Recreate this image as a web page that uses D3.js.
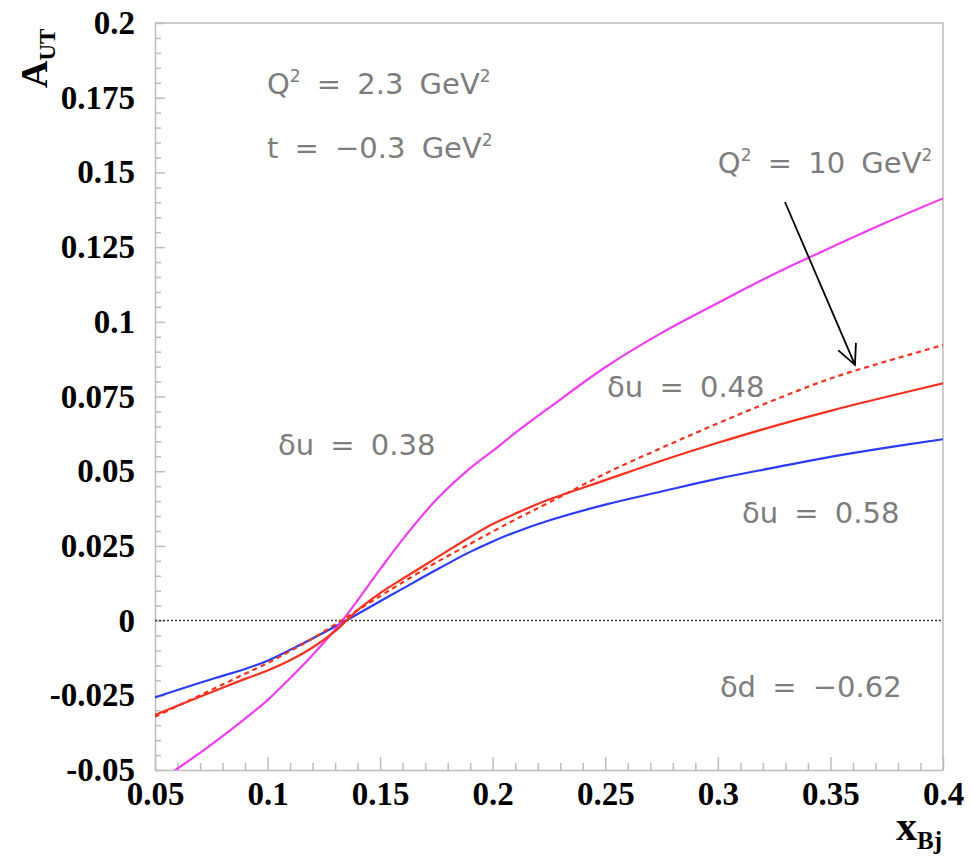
<!DOCTYPE html>
<html>
<head>
<meta charset="utf-8">
<script src="https://cdn.jsdelivr.net/npm/d3@7"></script>
<style>
  body { margin: 0; background: #fff; }
  .ann { font-family: "DejaVu Sans", sans-serif; fill: #7d7d7d; font-size: 29px; word-spacing: 7px; }
  .tick text { font-family: "Liberation Serif", "Times New Roman", serif; font-weight: bold; font-size: 33px; fill: #000; }
</style>
</head>
<body>
<svg width="972" height="859"></svg>
<script>
// x grid shared by all curves
var xBj = [0.05, 0.06, 0.07, 0.08, 0.09, 0.1, 0.11, 0.12, 0.13, 0.14, 0.15, 0.16,
           0.175, 0.19, 0.2, 0.21, 0.225, 0.25, 0.275, 0.3, 0.325, 0.35, 0.375, 0.4];

// du = 0.58, Q2 = 2.3
var blueAUT = [-0.0257, -0.0232, -0.0208, -0.0185, -0.0162, -0.0134, -0.0098, -0.006, -0.002, 0.0022, 0.0065, 0.0107,
               0.017, 0.023, 0.0265, 0.0296, 0.0335, 0.0388, 0.0432, 0.0475, 0.0512, 0.0548, 0.0579, 0.0607];
// du = 0.48, Q2 = 2.3
var redAUT = [-0.0316, -0.0285, -0.0255, -0.0225, -0.0195, -0.0167, -0.0133, -0.009, -0.0035, 0.0035, 0.0092, 0.014,
              0.021, 0.028, 0.0323, 0.0358, 0.0405, 0.047, 0.0535, 0.0595, 0.0651, 0.0702, 0.0749, 0.0794];
// du = 0.48, Q2 = 10
var redQ10AUT = [-0.0322, -0.0286, -0.025, -0.0214, -0.0178, -0.0142, -0.0102, -0.006, -0.0013, 0.0035, 0.0082, 0.0128,
                 0.0195, 0.0257, 0.0298, 0.0338, 0.0395, 0.0492, 0.0578, 0.066, 0.0738, 0.081, 0.0868, 0.0922];
// du = 0.38, Q2 = 2.3
var magentaAUT = [-0.0545, -0.0495, -0.0443, -0.0387, -0.0328, -0.0266, -0.0193, -0.0115, -0.003, 0.0068, 0.0172, 0.0272,
                  0.0405, 0.051, 0.0568, 0.0628, 0.0712, 0.0848, 0.0963, 0.1063, 0.116, 0.1248, 0.1333, 0.1413];

var xTicks = [0.05, 0.1, 0.15, 0.2, 0.25, 0.3, 0.35, 0.4];
var yTicks = [-0.05, -0.025, 0, 0.025, 0.05, 0.075, 0.1, 0.125, 0.15, 0.175, 0.2];

var svg = d3.select("svg"),
    margin = {top: 23, right: 29, bottom: 89, left: 155},
    width = +svg.attr("width") - margin.left - margin.right,
    height = +svg.attr("height") - margin.top - margin.bottom;

var x = d3.scaleLinear().domain([0.05, 0.4]).range([0, width]),
    y = d3.scaleLinear().domain([-0.05, 0.2]).range([height, 0]);

var g = svg.append("g")
    .attr("transform", "translate(" + margin.left + "," + margin.top + ")");

svg.append("defs").append("clipPath")
    .attr("id", "clip")
    .append("rect")
    .attr("width", width)
    .attr("height", height);

// minor ticks
var xMinor = d3.range(0.05, 0.4001, 0.01).map(function(d) { return +d.toFixed(3); })
    .filter(function(d) { return xTicks.indexOf(d) < 0; });
var yMinor = d3.range(-0.05, 0.2001, 0.005).map(function(d) { return +d.toFixed(3); })
    .filter(function(d) { return yTicks.indexOf(d) < 0; });

g.append("g")
    .attr("transform", "translate(0," + height + ")")
    .call(d3.axisBottom(x).tickValues(xMinor).tickSize(-7).tickFormat(""))
    .call(function(a) { a.select(".domain").remove(); });

g.append("g")
    .call(d3.axisLeft(y).tickValues(yMinor).tickSize(-6).tickFormat(""))
    .call(function(a) { a.select(".domain").remove(); });

g.append("g")
    .attr("transform", "translate(0," + height + ")")
    .call(d3.axisBottom(x).tickValues(xTicks).tickSizeInner(-13).tickSizeOuter(0).tickPadding(12)
        .tickFormat(function(d) { return String(+d.toFixed(2)); }));

g.append("g")
    .call(d3.axisLeft(y).tickValues(yTicks).tickSizeInner(-10).tickSizeOuter(0).tickPadding(20)
        .tickFormat(function(d) { return String(+d.toFixed(3)); }));

g.selectAll(".domain, .tick line").attr("stroke", "#bdbdbd").attr("stroke-width", 1.5);

// top and right frame
g.append("path")
    .attr("d", "M0,0H" + width + "V" + height)
    .attr("fill", "none")
    .attr("stroke", "#bdbdbd")
    .attr("stroke-width", 1.5);

// zero line
g.append("line")
    .attr("x1", 0).attr("x2", width)
    .attr("y1", y(0)).attr("y2", y(0))
    .attr("stroke", "#333")
    .attr("stroke-width", 1.5)
    .attr("stroke-dasharray", "2,2");

var line = d3.line()
    .curve(d3.curveCatmullRom.alpha(0.5))
    .x(function(d) { return x(d[0]); })
    .y(function(d) { return y(d[1]); });

var curves = [
  {vals: blueAUT, color: "#2a3cf5", dash: null},
  {vals: magentaAUT, color: "#f23cf2", dash: null},
  {vals: redQ10AUT, color: "#f5321e", dash: "5,4"},
  {vals: redAUT, color: "#f5321e", dash: null}
];

g.append("g")
    .attr("clip-path", "url(#clip)")
    .selectAll("path")
    .data(curves)
    .enter()
    .append("path")
    .attr("d", function(c) { return line(xBj.map(function(v, i) { return [v, c.vals[i]]; })); })
    .attr("fill", "none")
    .attr("stroke", function(c) { return c.color; })
    .attr("stroke-width", 2.2)
    .attr("stroke-dasharray", function(c) { return c.dash; });

// annotations
function ann(px, py, parts) {
  var t = g.append("text").attr("class", "ann").attr("x", x(px)).attr("y", y(py));
  parts.forEach(function(p) {
    if (p.sup) {
      t.append("tspan").attr("font-size", 17).attr("dy", -12).text(p.sup);
      t.append("tspan").attr("dy", 12).text(p.t || "");
    } else {
      t.append("tspan").text(p.t);
    }
  });
}

ann(0.0997, 0.1761, [{t: "Q"}, {sup: "2", t: " = 2.3 GeV"}, {sup: "2"}]);
ann(0.0997, 0.1547, [{t: "t = \u22120.3 GeV"}, {sup: "2"}]);
ann(0.3, 0.1497, [{t: "Q"}, {sup: "2", t: " = 10 GeV"}, {sup: "2"}]);
ann(0.2508, 0.0748, [{t: "\u03b4u = 0.48"}]);
ann(0.1046, 0.0554, [{t: "\u03b4u = 0.38"}]);
ann(0.3107, 0.0327, [{t: "\u03b4u = 0.58"}]);
ann(0.3009, -0.0256, [{t: "\u03b4d = \u22120.62"}]);

// arrow toward the Q2 = 10 curve
var tail = [0.3298, 0.1401], tip = [0.3609, 0.0856];
var ax = x(tip[0]), ay = y(tip[1]);
var ang = Math.atan2(ay - y(tail[1]), ax - x(tail[0]));
g.append("path")
    .attr("d", "M" + x(tail[0]) + "," + y(tail[1]) + "L" + ax + "," + ay +
        "M" + (ax - 22 * Math.cos(ang - 0.45)) + "," + (ay - 22 * Math.sin(ang - 0.45)) +
        "L" + ax + "," + ay +
        "L" + (ax - 22 * Math.cos(ang + 0.45)) + "," + (ay - 22 * Math.sin(ang + 0.45)))
    .attr("fill", "none")
    .attr("stroke", "#000")
    .attr("stroke-width", 1.8);

// axis titles
var ylab = svg.append("text")
    .attr("transform", "translate(47,88) rotate(-90)")
    .attr("font-family", "Liberation Serif, serif")
    .attr("font-weight", "bold")
    .attr("font-size", 38);
ylab.append("tspan").text("A");
ylab.append("tspan").attr("font-size", 23).attr("dy", 8).text("UT");

var xlab = svg.append("text")
    .attr("x", 896)
    .attr("y", 840)
    .attr("font-family", "Liberation Serif, serif")
    .attr("font-weight", "bold")
    .attr("font-size", 42);
xlab.append("tspan").text("x");
xlab.append("tspan").attr("font-size", 25).attr("dy", 9).text("Bj");
</script>
</body>
</html>
